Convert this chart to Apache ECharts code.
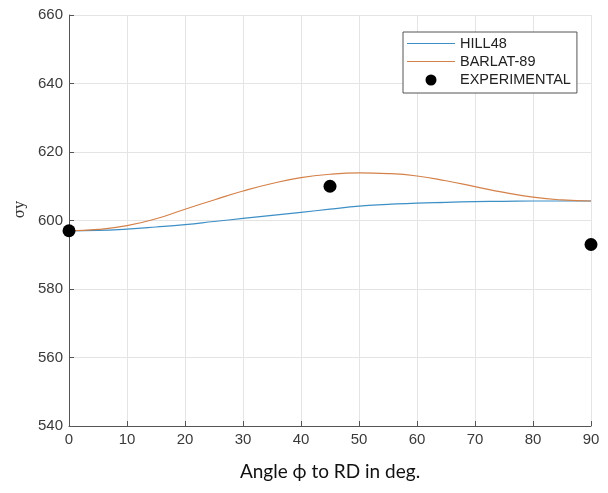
<!DOCTYPE html>
<html>
<head>
<meta charset="utf-8">
<script src="https://cdn.jsdelivr.net/npm/echarts@6/dist/echarts.min.js"></script>
<style>
html,body{margin:0;padding:0;background:#fff;}
#chart{width:608px;height:493px;}
</style>
</head>
<body>
<div id="chart"></div>
<script>
// angle to RD (deg)
var angles = [0,5,10,15,20,25,30,35,40,45,50,55,60,65,70,75,80,85,90];
var hill48 = [597,597.1,597.5,598.1,598.8,599.7,600.6,601.5,602.4,603.3,604.2,604.7,605.1,605.3,605.5,605.6,605.7,605.7,605.7];
var barlat89 = [597,597.4,598.5,600.5,603.3,606,608.6,610.8,612.5,613.5,613.9,613.7,613,611.6,609.9,608.2,606.8,606,605.7];
var expAngles = [0,45,90];
var expValues = [597,610,593];

function pairs(xs,ys){
	var out=[];
	for(var i=0;i<xs.length;i++)out.push([xs[i],ys[i]]);
	return out;
}

var myChart = echarts.init(document.getElementById('chart'));
var labelFont = {color:'#3a3a3a',fontFamily:'Liberation Sans, Arial, sans-serif',fontSize:15};
var lineIcon = 'path://M0,0L48,0L48,1.2L0,1.2Z';
var dotIcon = 'path://M0,0L0,0M48,16L48,16M29.5,8A5.5,5.5 0 1 0 29.5,8.01Z';
var option = {
	animation:false,
	grid:{left:69,right:17,top:15,bottom:67,outerBoundsMode:'none',containLabel:false},
	legend:{
		orient:'vertical',
		left:403,
		top:32,
		padding:[4,6,5,4],
		itemGap:3,
		itemWidth:48,
		itemHeight:16,
		backgroundColor:'#fff',
		borderColor:'#555',
		borderWidth:1,
		textStyle:{color:'#222',fontFamily:'Liberation Sans, Arial, sans-serif',fontSize:14.5,padding:[0,0,0,0]},
		data:[
			{name:'HILL48',icon:lineIcon,itemStyle:{color:'#3d8fc6'}},
			{name:'BARLAT-89',icon:lineIcon,itemStyle:{color:'#d4814a'}},
			{name:'EXPERIMENTAL',icon:dotIcon,itemStyle:{color:'#000'}}
		]
	},
	xAxis:{
		type:'value',
		min:0,max:90,interval:10,
		name:'Angle \u03d5 to RD in deg.',
		nameLocation:'middle',
		nameGap:36,
		nameTextStyle:{color:'#111',fontFamily:'Lato, Open Sans, sans-serif',fontSize:19},
		axisLine:{lineStyle:{color:'#555'}},
		axisTick:{inside:true,length:5,lineStyle:{color:'#555'}},
		axisLabel:Object.assign({margin:6},labelFont),
		splitLine:{show:true,lineStyle:{color:'#e4e4e4'}}
	},
	yAxis:{
		type:'value',
		min:540,max:660,interval:20,
		name:'\u03c3y',
		nameLocation:'middle',
		nameGap:33,
		nameRotate:90,
		nameTextStyle:{color:'#333',fontFamily:'DejaVu Serif, serif',fontSize:14,padding:[0,0,0,22]},
		axisLine:{show:true,lineStyle:{color:'#555'}},
		axisTick:{show:true,inside:true,length:5,lineStyle:{color:'#555'}},
		axisLabel:Object.assign({margin:6},labelFont),
		splitLine:{show:true,lineStyle:{color:'#e4e4e4'}}
	},
	series:[
		{
			name:'HILL48',
			type:'line',
			smooth:true,
			symbol:'none',
			lineStyle:{color:'#3d8fc6',width:1.2},
			itemStyle:{color:'#3d8fc6'},
			data:pairs(angles,hill48)
		},
		{
			name:'BARLAT-89',
			type:'line',
			smooth:true,
			symbol:'none',
			lineStyle:{color:'#d4814a',width:1.2},
			itemStyle:{color:'#d4814a'},
			data:pairs(angles,barlat89)
		},
		{
			name:'EXPERIMENTAL',
			type:'scatter',
			symbolSize:13,
			clip:false,
			z:5,
			itemStyle:{color:'#000',opacity:1},
			data:pairs(expAngles,expValues)
		}
	]
};
myChart.setOption(option);
</script>
</body>
</html>
